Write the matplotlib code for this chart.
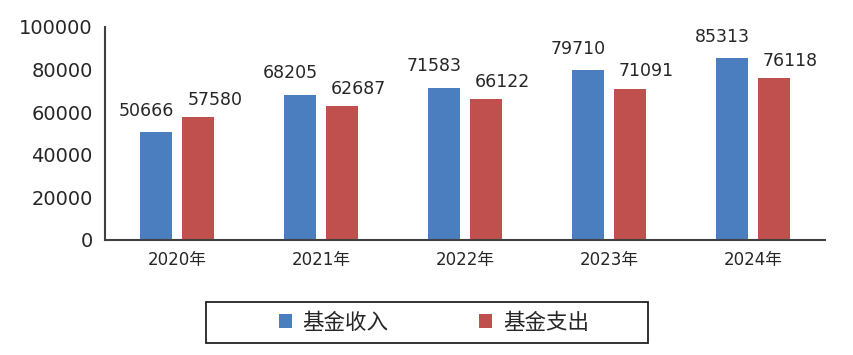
import matplotlib
matplotlib.use("Agg")
import matplotlib.pyplot as plt
from matplotlib.patches import Rectangle
import numpy as np

plt.rcParams['font.family'] = ['DejaVu Sans', 'Noto Sans CJK SC']

categories = ['2020年', '2021年', '2022年', '2023年', '2024年']
income = [50666, 68205, 71583, 79710, 85313]
expense = [57580, 62687, 66122, 71091, 76118]
series_names = ['基金收入', '基金支出']
yticks = [0, 20000, 40000, 60000, 80000, 100000]

blue = '#4A7EBE'
red = '#C0504D'
txt = '#262626'

fig = plt.figure(figsize=(8.54, 3.55), dpi=100)
ax = fig.add_axes([0.123, 0.324, 0.843, 0.600])

x = np.arange(len(categories))
w = 0.225
off = 0.146
b1 = ax.bar(x - off, income, w, color=blue, label=series_names[0])
b2 = ax.bar(x + off, expense, w, color=red, label=series_names[1])

for xi, v in zip(x, income):
    ax.annotate(f'{v}', (xi - off, v), xytext=(-7, 9), textcoords='offset points',
                ha='center', va='bottom', fontsize=12.5, color=txt)
for xi, v in zip(x, expense):
    ax.annotate(f'{v}', (xi + off, v), xytext=(12, 6), textcoords='offset points',
                ha='center', va='bottom', fontsize=12.5, color=txt)

ax.set_xlim(-0.5, 4.5)
ax.set_ylim(0, 100000)
ax.set_yticks(yticks)
ax.set_yticklabels([str(t) for t in yticks], fontsize=14, color=txt)
ax.set_xticks(x)
ax.set_xticklabels(categories, fontsize=12, color=txt)
ax.tick_params(axis='both', length=0, pad=8)
ax.tick_params(axis='y', pad=9)
for s in ['top', 'right']:
    ax.spines[s].set_visible(False)
for s in ['left', 'bottom']:
    ax.spines[s].set_color('#404040')
    ax.spines[s].set_linewidth(1.5)

# legend frame
fig.patches.append(Rectangle((0.241, 0.034), 0.518, 0.115, transform=fig.transFigure,
                             fill=False, edgecolor='#222222', linewidth=1.3))
leg = fig.legend(handles=[b1, b2], labels=series_names, loc='center',
                 bbox_to_anchor=(0.508, 0.0915), ncol=2, frameon=False,
                 prop={'size': 15.5}, handlelength=0.6, handleheight=0.6,
                 handletextpad=0.5, columnspacing=4.2, borderaxespad=0,
                 labelcolor=txt)

fig.savefig('out.png', dpi=100, facecolor='white')
